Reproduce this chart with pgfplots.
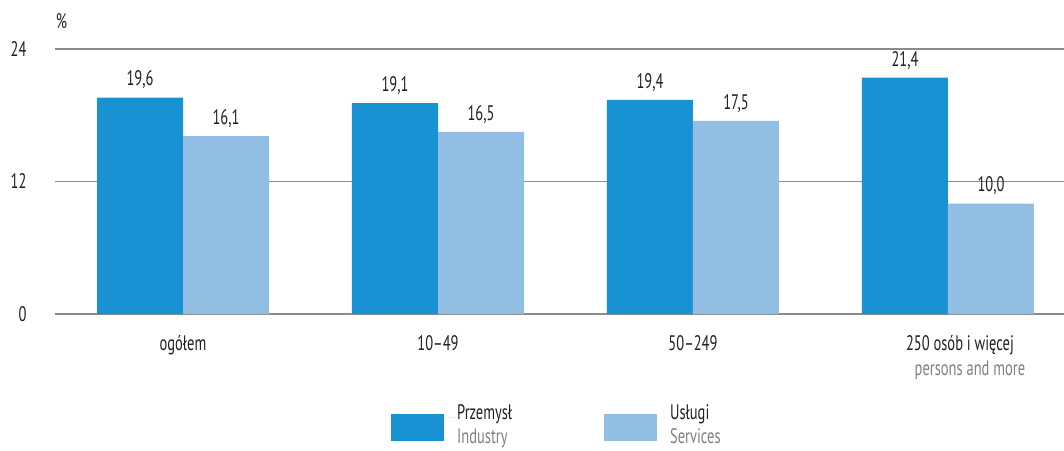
\documentclass[border=0pt]{standalone}
\usepackage{pgfplots}
\pgfplotsset{compat=1.18}
\usepackage{fontspec}
\setmainfont[FakeStretch=0.69]{PT Sans}
\usetikzlibrary{calc}
\definecolor{ind}{RGB}{25,146,211}
\definecolor{ser}{RGB}{147,190,227}
\definecolor{txt}{RGB}{35,31,32}
\definecolor{eng}{RGB}{128,128,128}
\definecolor{gridc}{RGB}{140,140,140}
\begin{document}
\begin{tikzpicture}[font=\fontsize{21}{25}\selectfont, text=txt]
\begin{axis}[name=ax,
  scale only axis, width=1009pt, height=265pt,
  ymin=0, ymax=24, xmin=-0.502, xmax=3.455,
  ytick={0,12,24}, xtick=data,
  xticklabels={ogółem, 10--49, 50--249, {250 osób i więcej\hspace*{-24pt}\\\hspace*{44pt}\textcolor{eng}{persons and more}}},
  xticklabel style={align=center, yshift=-18pt, text=txt},
  yticklabel style={xshift=-25pt, text=txt},
  ybar=0pt, bar width=86pt,
  axis line style={draw=none}, major tick length=0pt,
  ymajorgrids, grid style={gridc, line width=1.2pt},
  /pgf/number format/assume math mode=true,
  nodes near coords,
  nodes near coords style={text=txt, yshift=5pt,
    /pgf/number format/.cd, use comma, fixed, fixed zerofill, precision=1, assume math mode=true},
  clip=false,
  legend columns=2,
  legend style={draw=none, fill=none, at={(axis description cs:0.330,-0.322)}, anchor=north west,
    /tikz/every even column/.append style={column sep=92pt},
    nodes={inner sep=0pt, text=txt}},
  legend image code/.code={\fill (0pt,-24pt) rectangle (53pt,3pt); \path (53pt,0) -- (66pt,0);},
]
\addplot[fill=ind, draw=none] coordinates {(0,19.6) (1,19.1) (2,19.4) (3,21.4)};
\addlegendentry{\begin{tabular}{@{}l@{}}Przemysł\\[-1pt]\textcolor{eng}{Industry}\end{tabular}}
\addplot[fill=ser, draw=none] coordinates {(0,16.1) (1,16.5) (2,17.5) (3,10.0)};
\addlegendentry{\begin{tabular}{@{}l@{}}Usługi\\[-1pt]\textcolor{eng}{Services}\end{tabular}}
\node[text=txt] at (axis description cs:0.0064,1.104) {\%};
\end{axis}
\pgfresetboundingbox
\path[use as bounding box] ($(ax.south west)+(-55pt,-136pt)$) rectangle ($(ax.north east)+(0pt,49pt)$);
\end{tikzpicture}
\end{document}
